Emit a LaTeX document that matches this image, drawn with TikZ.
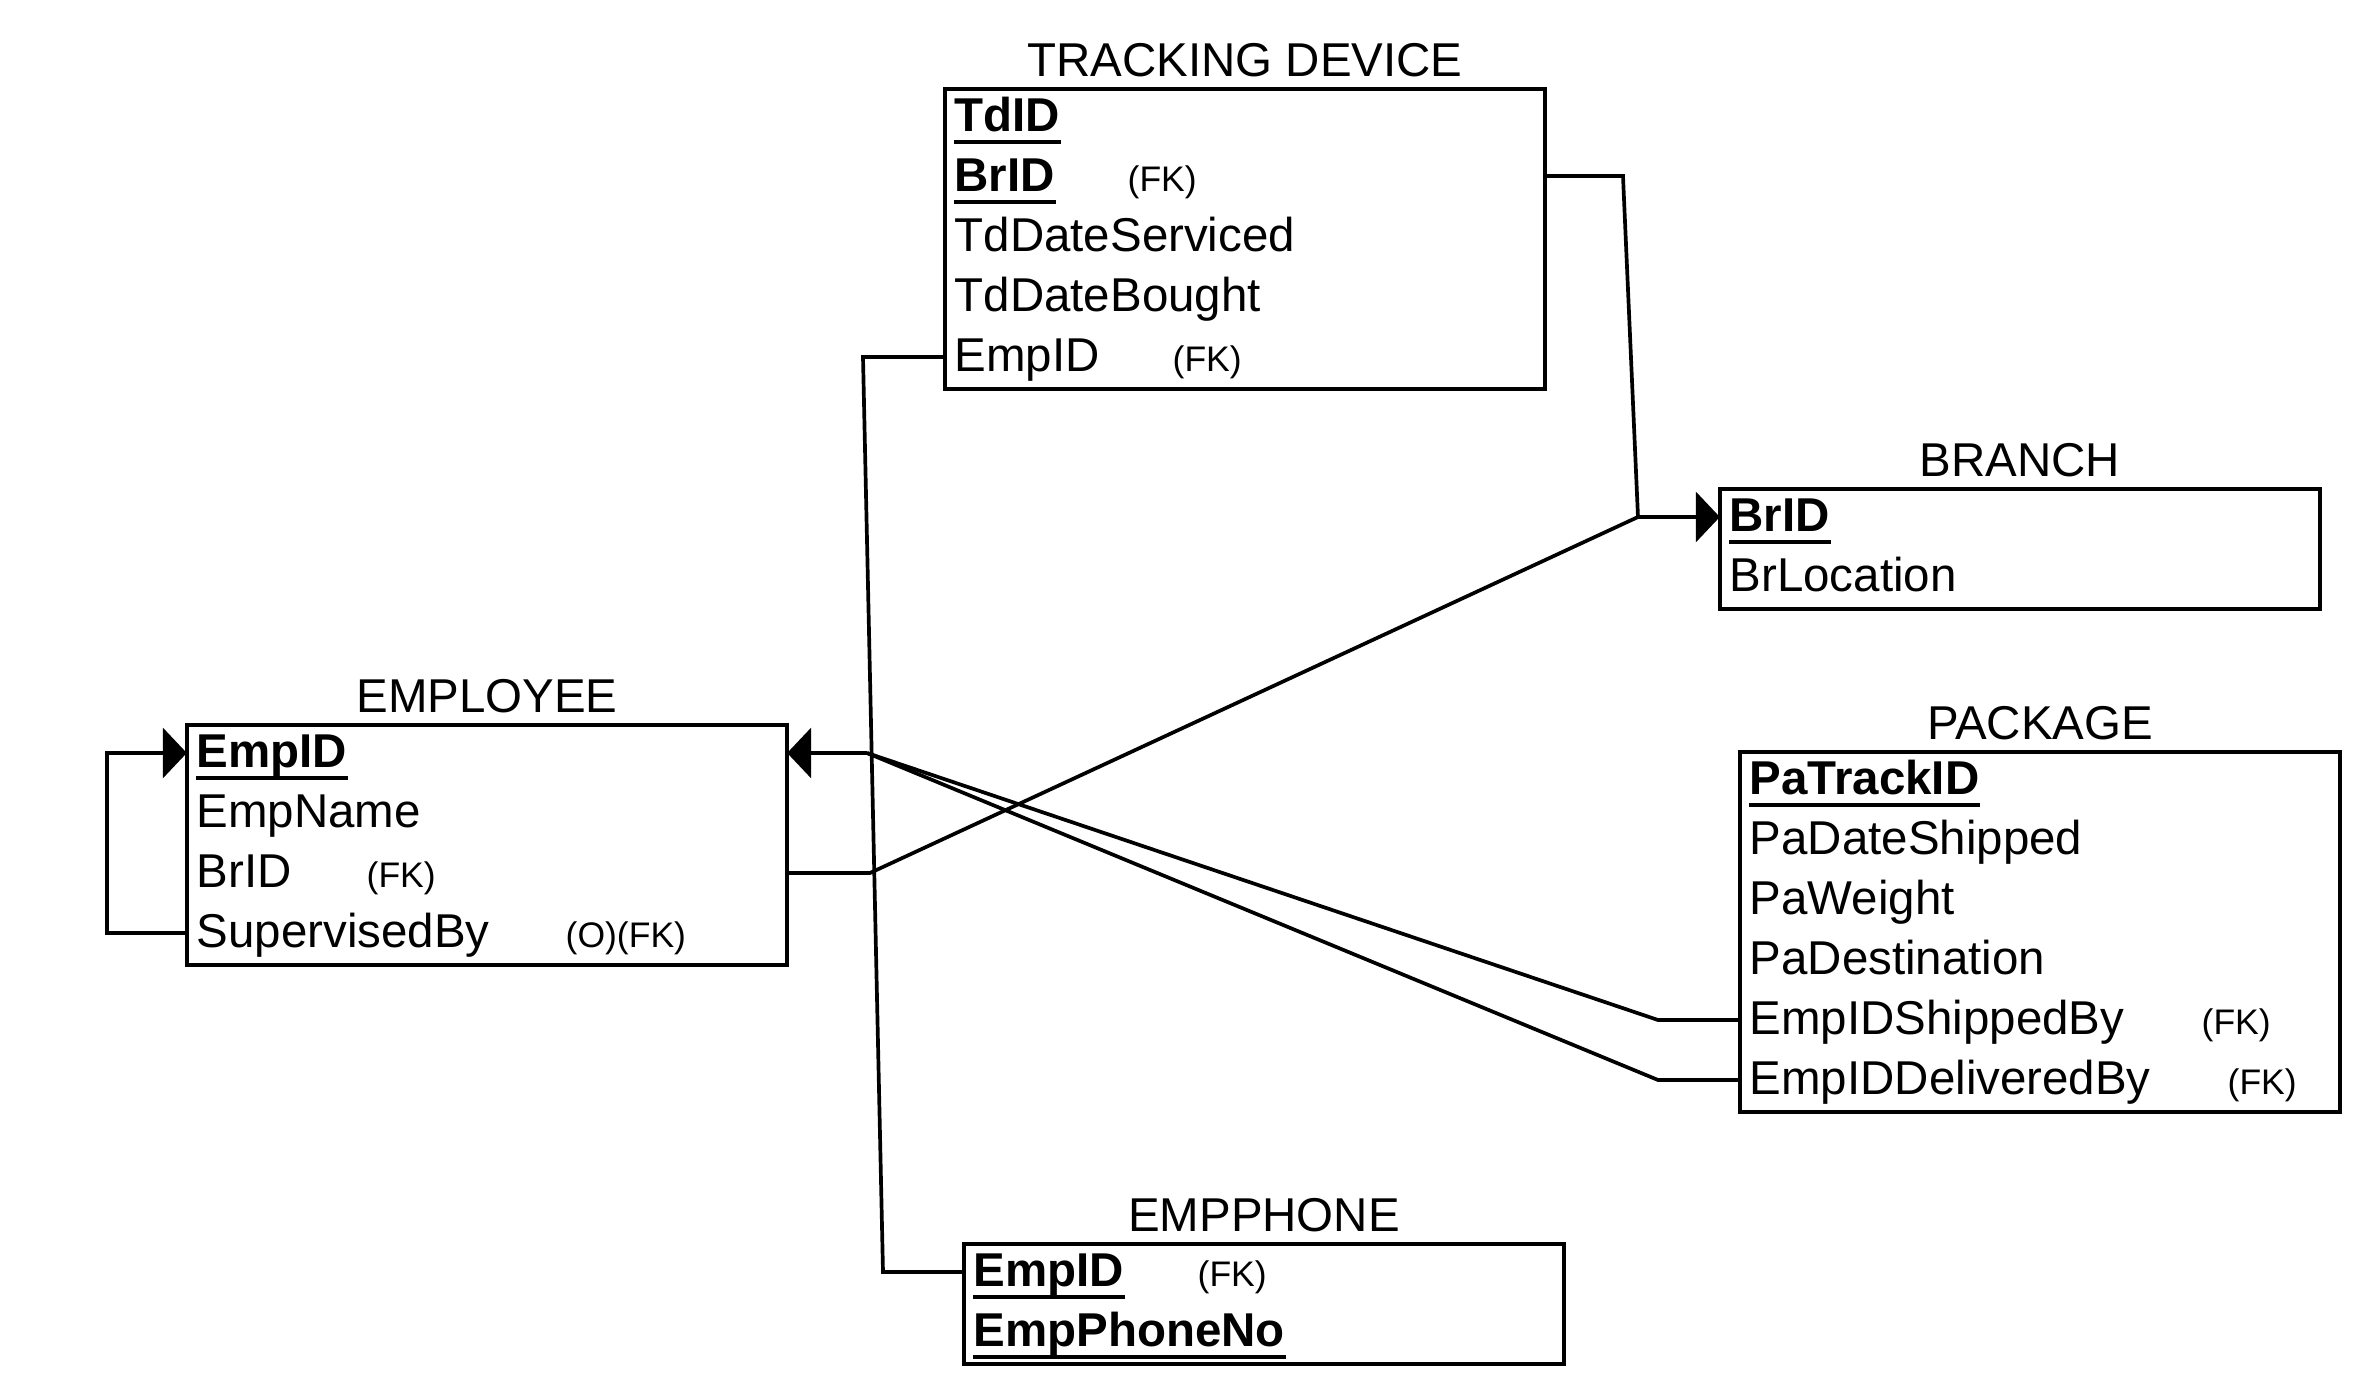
\documentclass[tikz,border=0pt]{standalone}
\usepackage{fontspec}
\setmainfont{Liberation Sans}
\usetikzlibrary{arrows.meta}
\begin{document}
\begin{tikzpicture}[x=0.01cm,y=-0.01cm,
  entity/.style={draw, line width=1.2pt, inner sep=0pt, outer sep=0pt, minimum width=6cm},
  title/.style={anchor=base, inner sep=0pt, font=\fontsize{13.5}{16}\selectfont},
  attr/.style={anchor=base west, inner sep=0pt, font=\fontsize{13.5}{16}\selectfont},
  keyattr/.style={anchor=base west, inner sep=0pt, font=\fontsize{13.5}{16}\selectfont\bfseries},
  fk/.style={anchor=base west, inner sep=0pt, font=\fontsize{10.1}{12}\selectfont},
  ulline/.style={line width=1pt},
  conn/.style={line width=1.05pt, line join=miter},
  tip/.style={-{Triangle[length=0.24cm,width=0.5cm]}}
]
\newcommand\keyfield[4]{\node[keyattr] (#1) at (#2,#3) {#4};
  \draw[ulline] ([yshift=-0.1cm]#1.base west) -- ([yshift=-0.1cm]#1.base east);}
\useasboundingbox (0,0) rectangle (2368,1392);

% TRACKING DEVICE
\node[entity, minimum height=3cm] (td) at (1245,239) {};
\node[title] (tdt) at (1245,77) {TRACKING DEVICE};
\keyfield{td1}{954}{132}{TdID}
\keyfield{td2}{954}{192}{BrID}
\node[fk] (td2f) at (1127,192) {(FK)};
\node[attr] (td3) at (954,252) {TdDateServiced};
\node[attr] (td4) at (954,312) {TdDateBought};
\node[attr] (td5) at (954,372) {EmpID};
\node[fk] (td5f) at (1172,372) {(FK)};

% BRANCH
\node[entity, minimum height=1.2cm] (br) at (2020,549) {};
\node[title] (brt) at (2020,477) {BRANCH};
\keyfield{br1}{1729}{532}{BrID}
\node[attr] (br2) at (1729,592) {BrLocation};

% EMPLOYEE
\node[entity, minimum height=2.4cm] (emp) at (487,845) {};
\node[title] (empt) at (487,713) {EMPLOYEE};
\keyfield{emp1}{196}{768}{EmpID}
\node[attr] (emp2) at (196,828) {EmpName};
\node[attr] (emp3) at (196,888) {BrID};
\node[fk] (emp3f) at (366,888) {(FK)};
\node[attr] (emp4) at (196,948) {SupervisedBy};
\node[fk] (emp4f) at (565,948) {(O)(FK)};

% PACKAGE
\node[entity, minimum height=3.6cm] (pk) at (2040,932) {};
\node[title] (pkt) at (2040,740) {PACKAGE};
\keyfield{pk1}{1749}{795}{PaTrackID}
\node[attr] (pk2) at (1749,855) {PaDateShipped};
\node[attr] (pk3) at (1749,915) {PaWeight};
\node[attr] (pk4) at (1749,975) {PaDestination};
\node[attr] (pk5) at (1749,1035) {EmpIDShippedBy};
\node[fk] (pk5f) at (2201,1035) {(FK)};
\node[attr] (pk6) at (1749,1095) {EmpIDDeliveredBy};
\node[fk] (pk6f) at (2227,1095) {(FK)};

% EMPPHONE
\node[entity, minimum height=1.2cm] (eph) at (1264,1304) {};
\node[title] (epht) at (1264,1232) {EMPPHONE};
\keyfield{eph1}{973}{1287}{EmpID}
\node[fk] (eph1f) at (1197,1287) {(FK)};
\keyfield{eph2}{973}{1347}{EmpPhoneNo}

% junctions
\coordinate (jLoopT) at (107,753);
\coordinate (jLoopB) at (107,933);
\coordinate (jTdEmpA) at (863,357);
\coordinate (jTdEmpB) at (883,1272);
\coordinate (jTdBrA) at (1623,176);
\coordinate (jBr) at (1638,517);
\coordinate (jEmpBr) at (870,873);
\coordinate (jEmp) at (867,753);
\coordinate (jPkS) at (1658,1020);
\coordinate (jPkD) at (1658,1080);

% connectors
\draw[conn, tip] (emp.west |- jLoopB) -- (jLoopB) -- (jLoopT) -- (emp.west |- jLoopT);
\draw[conn] (td.west |- jTdEmpA) -- (jTdEmpA) -- (jTdEmpB) -- (eph.west |- jTdEmpB);
\draw[conn, tip] (td.east |- jTdBrA) -- (jTdBrA) -- (jBr) -- (br.west |- jBr);
\draw[conn] (emp.east |- jEmpBr) -- (jEmpBr) -- (jBr);
\draw[conn] (pk.west |- jPkS) -- (jPkS) -- (jEmp);
\draw[conn] (pk.west |- jPkD) -- (jPkD) -- (jEmp);
\draw[conn, tip] (jEmp) -- (emp.east |- jEmp);
\end{tikzpicture}
\end{document}
